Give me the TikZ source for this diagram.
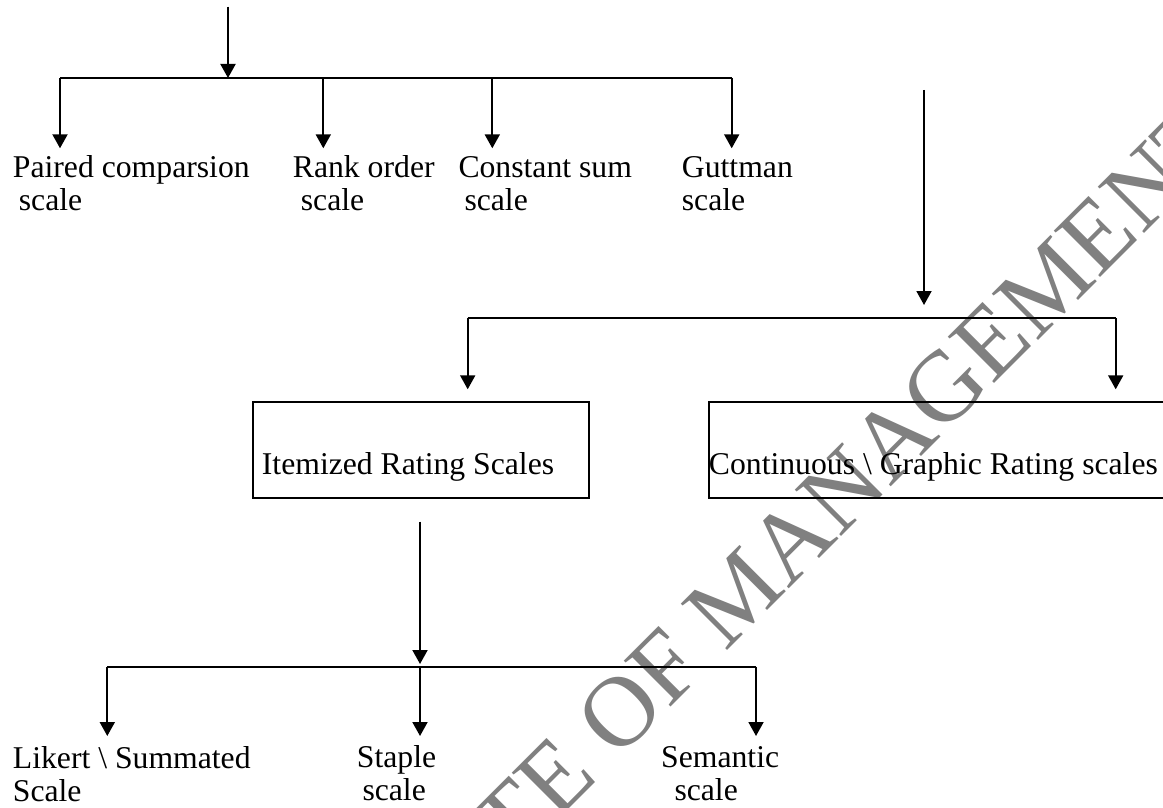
\documentclass[tikz,border=0pt]{standalone}
\usepackage{fontspec}
\setmainfont{Liberation Serif}
\usetikzlibrary{arrows.meta}
\definecolor{wmgray}{RGB}{128,128,128}
% two-line label whose first baseline is the node's baseline
\newcommand{\twolines}[3]{\begin{tabular}[t]{@{}l@{}}#1\\\hspace*{#2pt}#3\end{tabular}}

\begin{document}
\begin{tikzpicture}[x=1pt,y=-1pt,
  lbl/.style={anchor=base west, inner sep=0pt, font=\fontsize{31.7}{33.5}\selectfont},
  ratebox/.style={draw, line width=1.8pt, anchor=north west, inner ysep=0pt,
    text height=72.3pt, text depth=23.7pt, font=\fontsize{31.7}{33.5}\selectfont},
  wire/.style={line width=1.7pt},
  arr/.style={line width=1.9pt, -{Triangle[width=15pt,length=14pt]}},
  wmark/.style={inner sep=0pt, rotate=45, text=wmgray, font=\fontsize{100}{100}\selectfont}
]
\useasboundingbox (0,0) rectangle (1163,808);
\fill[white] (0,0) rectangle (1163,808);

% watermark
\node[wmark] (wm) at (852,480) {TE OF MANAGEMENT};

% ---------- first group ----------
\coordinate (srcA) at (228,6.7);
\coordinate (jA) at (228,78);
\coordinate (bA1) at (60,78);
\coordinate (bA2) at (323.3,78);
\coordinate (bA3) at (492.3,78);
\coordinate (bA4) at (731.7,78);
\coordinate (tA1) at (60,148.3);
\coordinate (tA2) at (323.3,148.3);
\coordinate (tA3) at (492.3,148.3);
\coordinate (tA4) at (731.7,148.3);

\node[lbl] (pc) at (12.7,177) {\twolines{Paired comparsion}{6}{scale}};
\node[lbl] (ro) at (292.7,177) {\twolines{Rank order}{8}{scale}};
\node[lbl] (cs) at (458.3,177) {\twolines{Constant sum}{6}{scale}};
\node[lbl] (gs) at (681.7,177) {\twolines{Guttman}{0}{scale}};

\draw[arr] (srcA) -- (jA);
\draw[wire] (bA1) -- (bA4);
\draw[arr] (bA1) -- (tA1);
\draw[arr] (bA2) -- (tA2);
\draw[arr] (bA3) -- (tA3);
\draw[arr] (bA4) -- (tA4);

% ---------- second group ----------
\coordinate (srcB) at (924,90);
\coordinate (jB) at (924,305);
\coordinate (bB1) at (467.7,318);
\coordinate (bB2) at (1115.7,318);
\coordinate (tB1) at (467.7,389.3);
\coordinate (tB2) at (1115.7,389.3);

\node[ratebox, inner xsep=9.3pt] (irs) at (251.7,401)
  {\makebox[317.4pt][l]{Itemized Rating Scales}};
\node[ratebox, inner xsep=0.3pt] (cgr) at (707.7,401)
  {\makebox[480pt][l]{Continuous \textbackslash{} Graphic Rating scales}};

\draw[arr] (srcB) -- (jB);
\draw[wire] (bB1) -- (bB2);
\draw[arr] (bB1) -- (tB1);
\draw[arr] (bB2) -- (tB2);

% ---------- third group ----------
\coordinate (srcC) at (420,521.7);
\coordinate (jC) at (420,664);
\coordinate (bC1) at (107.3,666.7);
\coordinate (bC2) at (420,666.7);
\coordinate (bC3) at (756,666.7);
\coordinate (tC1) at (107.3,736);
\coordinate (tC2) at (420,736);
\coordinate (tC3) at (756,736);

\node[lbl] (ls) at (12.7,768) {\twolines{Likert \textbackslash{} Summated}{0}{Scale}};
\node[lbl] (sp) at (356.7,767) {\twolines{Staple}{5.6}{scale}};
\node[lbl] (sm) at (661,767) {\twolines{Semantic}{13.3}{scale}};

\draw[arr] (srcC) -- (jC);
\draw[wire] (bC1) -- (bC3);
\draw[arr] (bC1) -- (tC1);
\draw[arr] (bC2) -- (tC2);
\draw[arr] (bC3) -- (tC3);
\end{tikzpicture}
\end{document}
